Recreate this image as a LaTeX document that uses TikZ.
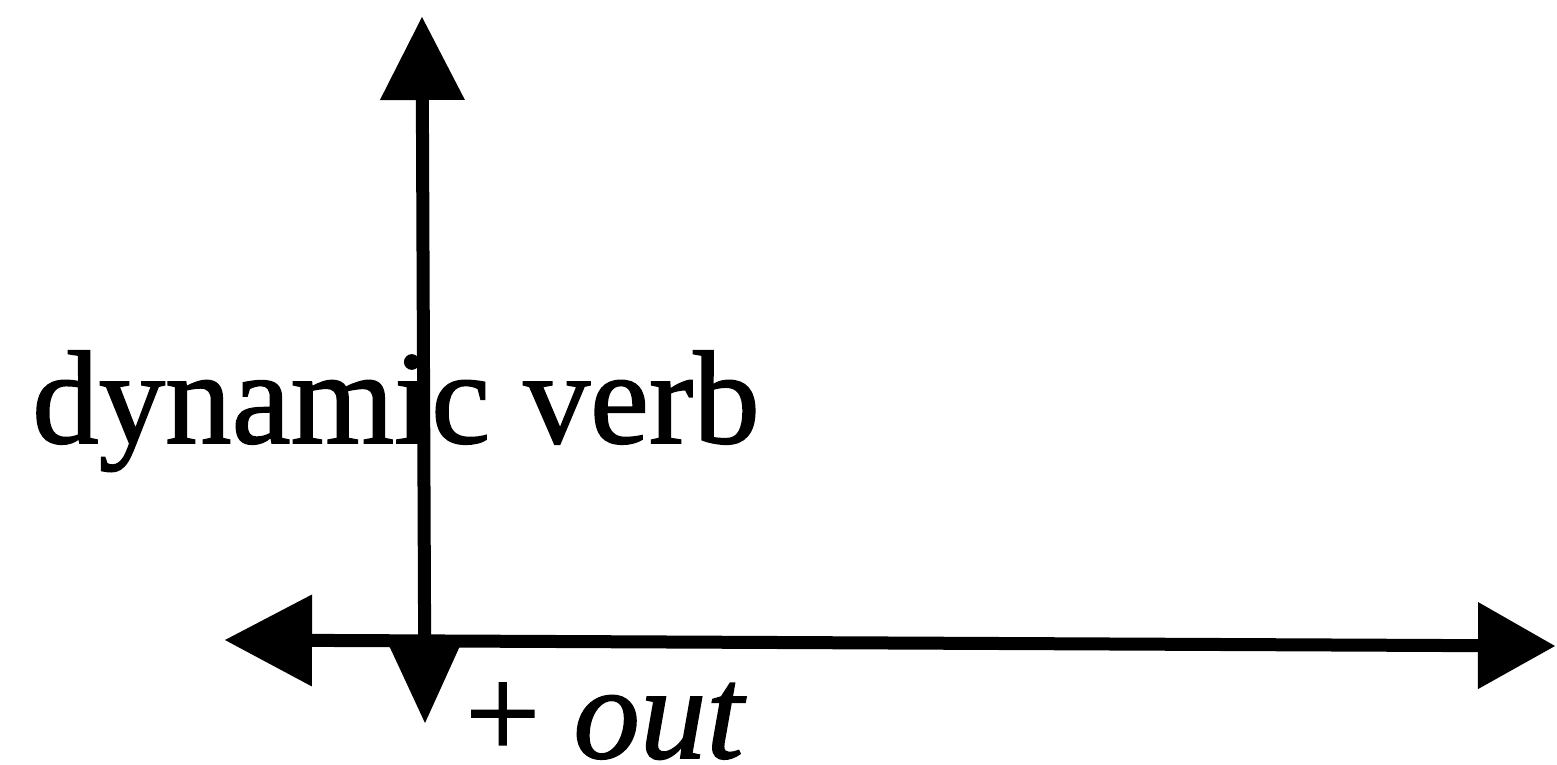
\documentclass[tikz,border=0pt]{standalone}
\usepackage{fontspec}
\setmainfont{Liberation Serif}
\usetikzlibrary{arrows.meta}
\begin{document}
\begin{tikzpicture}[x=1pt,y=-1pt,
  axis/.style={line width=13pt},
  lbl/.style={inner sep=0pt,anchor=base west,font=\fontsize{133}{140}\selectfont\addfontfeature{FakeBold=1.2}}]
\useasboundingbox (0,0) rectangle (1557,765);
% coordinates
\coordinate (vtop) at (422,17);
\coordinate (vbot) at (425,723);
\coordinate (hleft) at (225,640);
\coordinate (hright) at (1555,646);
% axes
\draw[axis,{Triangle[length=85pt,width=78pt,line width=0pt]}-{Triangle[length=83pt,width=85pt,line width=0pt]}] (vbot) -- (vtop);
\draw[axis,{Triangle[length=87pt,width=92pt,line width=0pt]}-{Triangle[length=77pt,width=87pt,line width=0pt]}] (hleft) -- (hright);
% labels
\node[lbl] (dv) at (32,443) {dynamic verb};
\node[lbl] (out) at (465,758) {+ \textit{out}};
\end{tikzpicture}
\end{document}
